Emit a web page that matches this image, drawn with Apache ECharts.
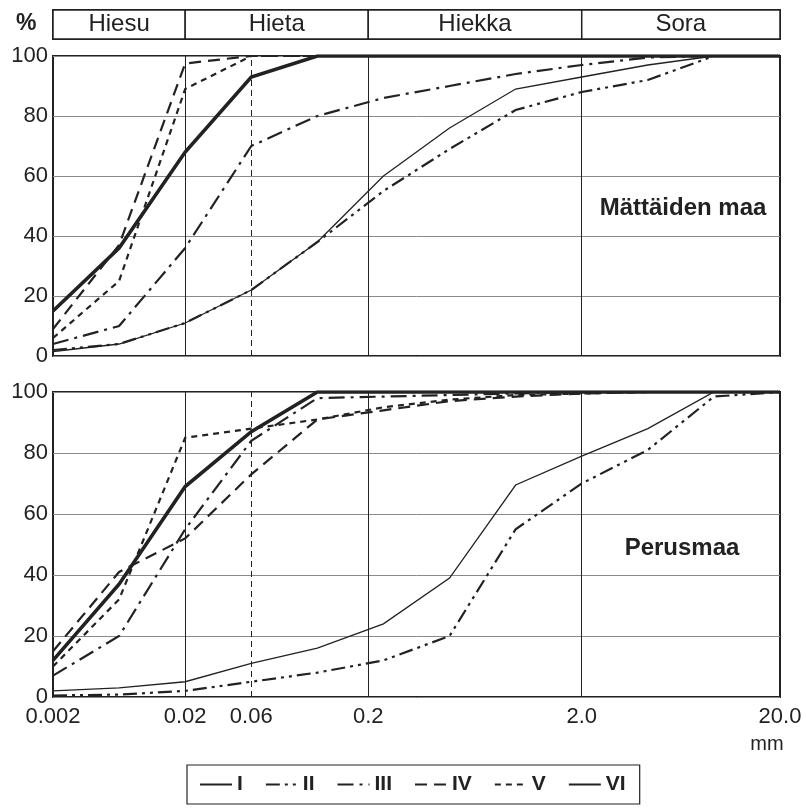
<!DOCTYPE html>
<html>
<head>
<meta charset="utf-8">
<script src="https://cdn.jsdelivr.net/npm/echarts@6/dist/echarts.min.js"></script>
<style>
  html, body { margin: 0; padding: 0; background: #fff; }
  #chart { width: 806px; height: 809px; }
</style>
</head>
<body>
<div id="chart"></div>
<script>
// Grain size distribution curves, two soil layers.
const curveNames = ['I', 'II', 'III', 'IV', 'V', 'VI'];

// Sieve steps along the horizontal axis (evenly spaced)
const sieveStep = [0, 1, 2, 3, 4, 5, 6, 7, 8, 9, 10, 11];

// Grain size ticks (mm) and their place on the sieve-step axis
const tickPos = [0, 2, 3, 4.77, 8, 11];
const tickLabels = ['0.002', '0.02', '0.06', '0.2', '2.0', '20.0'];

// Fraction names in the header band and their limits on the axis
const fractionNames = ['Hiesu', 'Hieta', 'Hiekka', 'Sora'];
const fractionBounds = [0, 2, 4.77, 8, 11];

// Passing percentage, Mättäiden maa
const mattaatI   = [1.5, 4, 11, 22, 38, 60, 76, 89, 93, 97, 100, 100];
const mattaatII  = [2, 4, 11, 22, 38, 55, 69, 82, 88, 92, 100, 100];
const mattaatIII = [4, 10, 36, 70, 80, 86, 90, 94, 97, 99.5, 100, 100];
const mattaatIV  = [9, 37, 97.5, 100, 100, 100, 100, 100, 100, 100, 100, 100];
const mattaatV   = [6, 25, 89, 100, 100, 100, 100, 100, 100, 100, 100, 100];
const mattaatVI  = [15, 36, 68, 93, 100, 100, 100, 100, 100, 100, 100, 100];

// Passing percentage, Perusmaa
const perusI   = [2, 3, 5, 11, 16, 24, 39, 69.5, 79, 88, 100, 100];
const perusII  = [0.5, 0.8, 2, 5, 8, 12, 20, 55, 70, 81, 98.5, 100];
const perusIII = [7, 20, 55, 84, 98, 98.5, 99, 99.5, 100, 100, 100, 100];
const perusIV  = [15, 41, 52, 73, 91, 94, 97, 98.5, 99.5, 100, 100, 100];
const perusV   = [10, 32, 85, 88, 91, 95, 97.5, 99, 99.5, 100, 100, 100];
const perusVI  = [12, 37, 69, 87, 100, 100, 100, 100, 100, 100, 100, 100];

const mattaatSets = [mattaatI, mattaatII, mattaatIII, mattaatIV, mattaatV, mattaatVI];
const perusSets = [perusI, perusII, perusIII, perusIV, perusV, perusVI];

const INK = '#222';
const FONT = '"Liberation Sans", Arial, sans-serif';

// Line appearance of each curve
const curveLine = {
  I:   { width: 1.3, type: 'solid' },
  II:  { width: 2.2, type: [14, 5, 3, 5, 3, 5] },
  III: { width: 2.2, type: [16, 6, 3, 6] },
  IV:  { width: 2.2, type: [12, 7] },
  V:   { width: 2.2, type: [6, 5] },
  VI:  { width: 3.6, type: 'solid' }
};

const pairs = vals => sieveStep.map((s, i) => [s, vals[i]]);

// Vertical reference lines at the fraction limits (0.06 mm dashed)
function limitLines() {
  return {
    silent: true,
    symbol: 'none',
    label: { show: false },
    animation: false,
    data: tickPos.slice(1, -1).map(p => ({
      xAxis: p,
      lineStyle: { color: INK, width: 1, type: p === 3 ? [6, 4] : 'solid' }
    }))
  };
}

function curveSeries(sets, gridIdx) {
  return sets.map((vals, k) => {
    const name = curveNames[k];
    const s = {
      name: name,
      type: 'line',
      xAxisIndex: gridIdx,
      yAxisIndex: gridIdx,
      data: pairs(vals),
      symbol: 'none',
      animation: false,
      lineStyle: { color: INK, width: curveLine[name].width, type: curveLine[name].type, cap: 'butt', join: 'miter' },
      itemStyle: { color: INK },
      z: name === 'VI' ? 4 : 3
    };
    if (k === 0) s.markLine = limitLines();
    return s;
  });
}

const bandArea = fractionNames.map((n, i) => [
  { xAxis: fractionBounds[i], name: n },
  { xAxis: fractionBounds[i + 1] }
]);

const plotGrid = (top, height) => ({
  left: 53, right: 26, top: top, height: height,
  show: true, borderColor: INK, borderWidth: 2, backgroundColor: 'transparent'
});

const xBase = (gridIndex, showLabels) => ({
  type: 'value', gridIndex: gridIndex, min: 0, max: 11,
  axisLine: { show: false }, axisTick: { show: false }, splitLine: { show: false },
  axisLabel: showLabels ? {
    customValues: tickPos,
    formatter: v => tickLabels[tickPos.indexOf(v)] || '',
    fontSize: 22, color: INK, fontFamily: FONT, margin: 9
  } : { show: false }
});

const yBase = gridIndex => ({
  type: 'value', gridIndex: gridIndex, min: 0, max: 100, interval: 20,
  axisLine: { show: false }, axisTick: { show: false },
  axisLabel: { fontSize: 22, color: INK, fontFamily: FONT, margin: 5 },
  splitLine: { lineStyle: { color: '#8a8a8a', width: 1 } }
});

const option = {
  backgroundColor: '#fff',
  animation: false,
  grid: [
    { left: 53, right: 26, top: 10, height: 29, show: true, borderColor: INK, borderWidth: 2 },
    plotGrid(56, 300),
    plotGrid(392, 305)
  ],
  xAxis: [
    { type: 'value', gridIndex: 0, min: 0, max: 11, show: false },
    xBase(1, false),
    xBase(2, true)
  ],
  yAxis: [
    { type: 'value', gridIndex: 0, min: 0, max: 1, show: false },
    yBase(1),
    yBase(2)
  ],
  legend: {
    data: curveNames,
    left: 187, top: 765,
    orient: 'horizontal',
    itemWidth: 32, itemHeight: 14, itemGap: 22,
    padding: [9, 14, 9, 12],
    borderColor: INK, borderWidth: 1.2,
    selectedMode: false,
    itemStyle: { color: 'transparent', borderWidth: 0, opacity: 0 },
    textStyle: { fontSize: 21, fontWeight: 'bold', color: INK, fontFamily: FONT }
  },
  graphic: [
    { type: 'text', left: 16, top: 12, style: { text: '%', fontSize: 23, fontWeight: 'bold', fill: INK, fontFamily: FONT } },
    { type: 'text', x: 683, y: 208, style: { text: 'Mättäiden maa', fontSize: 24, fontWeight: 'bold', fill: INK, fontFamily: FONT, align: 'center', verticalAlign: 'middle' } },
    { type: 'text', x: 682, y: 548, style: { text: 'Perusmaa', fontSize: 24, fontWeight: 'bold', fill: INK, fontFamily: FONT, align: 'center', verticalAlign: 'middle' } },
    { type: 'text', x: 767, y: 744, style: { text: 'mm', fontSize: 20, fill: INK, fontFamily: FONT, align: 'center', verticalAlign: 'middle' } }
  ],
  series: [
    {
      type: 'line', xAxisIndex: 0, yAxisIndex: 0, data: [], silent: true,
      markArea: {
        silent: true,
        itemStyle: { color: '#fff', borderColor: INK, borderWidth: 1.5 },
        label: { show: true, position: 'inside', fontSize: 24, color: INK, fontFamily: FONT },
        data: bandArea
      }
    },
    ...curveSeries(mattaatSets, 1),
    ...curveSeries(perusSets, 2)
  ]
};

const chart = echarts.init(document.getElementById('chart'), null, { renderer: 'canvas' });
chart.setOption(option);
</script>
</body>
</html>
